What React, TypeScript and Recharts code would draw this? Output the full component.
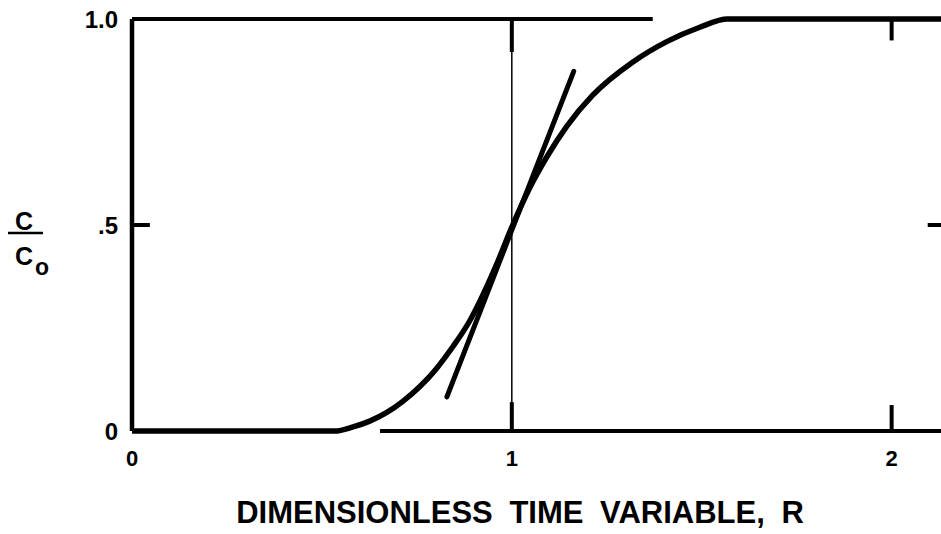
import React from 'react';
import { ComposedChart, Line, XAxis, YAxis, ReferenceLine } from 'recharts';

// Breakthrough curve C/Co against dimensionless time R
const curveR = [0, 0.534, 0.582, 0.626, 0.671, 0.713, 0.758, 0.802, 0.845, 0.889, 0.916, 0.958, 1.0, 1.047, 1.092, 1.145, 1.213, 1.318, 1.408, 1.495, 1.568, 2.13];
const curveC = [0, 0, 0.01, 0.024, 0.045, 0.072, 0.108, 0.152, 0.205, 0.267, 0.315, 0.4, 0.495, 0.59, 0.665, 0.74, 0.815, 0.895, 0.945, 0.98, 1.0, 1.0];

// Tangent drawn through the midpoint
const tangentR = [0.829, 1.163];
const tangentC = [0.083, 0.873];

const xTicks = [0, 1, 2];
const yTicks = [0, 0.5, 1];
const yTickLabels: Record<number, string> = { 0: '0', 0.5: '.5', 1: '1.0' };

const X_MAX = 2.13;

const curve = curveR.map((r, i) => ({ r, c: curveC[i] }));
const tangent = tangentR.map((r, i) => ({ r, c: tangentC[i] }));

// frame pieces, in data units: [r1, c1, r2, c2, strokeWidth]
const frame: [number, number, number, number, number][] = [
  [0, 1, 1.371, 1, 4],
  [0, 0, 0, 1, 4.5],
  [0.653, 0, X_MAX, 0, 4],
  [1, 0, 1, 1, 1.5],
  [1, 1, 1, 0.92, 4],
  [1, 0, 1, 0.07, 4],
  [2, 1, 2, 0.948, 4],
  [2, 0, 2, 0.063, 4],
  [0, 0.5, 0.047, 0.5, 4],
  [2.095, 0.5, X_MAX, 0.5, 4],
];

const font = '"Liberation Sans", Arial, sans-serif';

const XTick = ({ x, y, payload }: any) => (
  <text x={x} y={y + 16} textAnchor="middle" fontSize={22} fontWeight={700} fontFamily={font} fill="#000">
    {payload.value}
  </text>
);

const YTick = ({ x, y, payload }: any) => (
  <text x={x} y={y + 8.5} textAnchor="end" fontSize={24} fontWeight={700} fontFamily={font} fill="#000">
    {yTickLabels[payload.value] ?? String(payload.value)}
  </text>
);

export default function App() {
  return (
    <div style={{ position: 'absolute', left: 0, top: 0, width: 941, height: 534, background: '#fff' }}>
      <ComposedChart width={941} height={534} margin={{ top: 19, right: 0, bottom: 0, left: 0 }}>
        <XAxis
          dataKey="r"
          type="number"
          domain={[0, X_MAX]}
          ticks={xTicks}
          axisLine={false}
          tickLine={false}
          tickSize={0}
          tickMargin={19}
          height={103}
          allowDataOverflow
          tick={<XTick />}
        />
        <YAxis
          dataKey="c"
          type="number"
          domain={[0, 1]}
          ticks={yTicks}
          axisLine={false}
          tickLine={false}
          tickSize={0}
          tickMargin={14}
          width={132}
          tick={<YTick />}
        />
        {frame.map(([x1, y1, x2, y2, w], i) => (
          <ReferenceLine
            key={i}
            segment={[{ x: x1, y: y1 }, { x: x2, y: y2 }]}
            stroke="#000"
            strokeWidth={w}
            ifOverflow="visible"
          />
        ))}
        <Line
          data={tangent}
          dataKey="c"
          type="linear"
          stroke="#000"
          strokeWidth={5}
          strokeLinecap="round"
          dot={false}
          activeDot={false}
          isAnimationActive={false}
        />
        <Line
          data={curve}
          dataKey="c"
          type="monotone"
          stroke="#000"
          strokeWidth={5.5}
          dot={false}
          activeDot={false}
          isAnimationActive={false}
        />
      </ComposedChart>
      <svg width={941} height={534} style={{ position: 'absolute', left: 0, top: 0, pointerEvents: 'none' }}>
        <g fontFamily={font} fontWeight={700} fill="#000">
          <text x={24} y={230} fontSize={25} textAnchor="middle">C</text>
          <line x1={8} y1={233} x2={43} y2={233} stroke="#000" strokeWidth={2.5} />
          <text x={24} y={265} fontSize={25} textAnchor="middle">C</text>
          <text x={35} y={275} fontSize={23}>o</text>
          <text x={520} y={523} fontSize={31} textAnchor="middle" wordSpacing={8}>
            DIMENSIONLESS TIME VARIABLE, R
          </text>
        </g>
      </svg>
    </div>
  );
}
